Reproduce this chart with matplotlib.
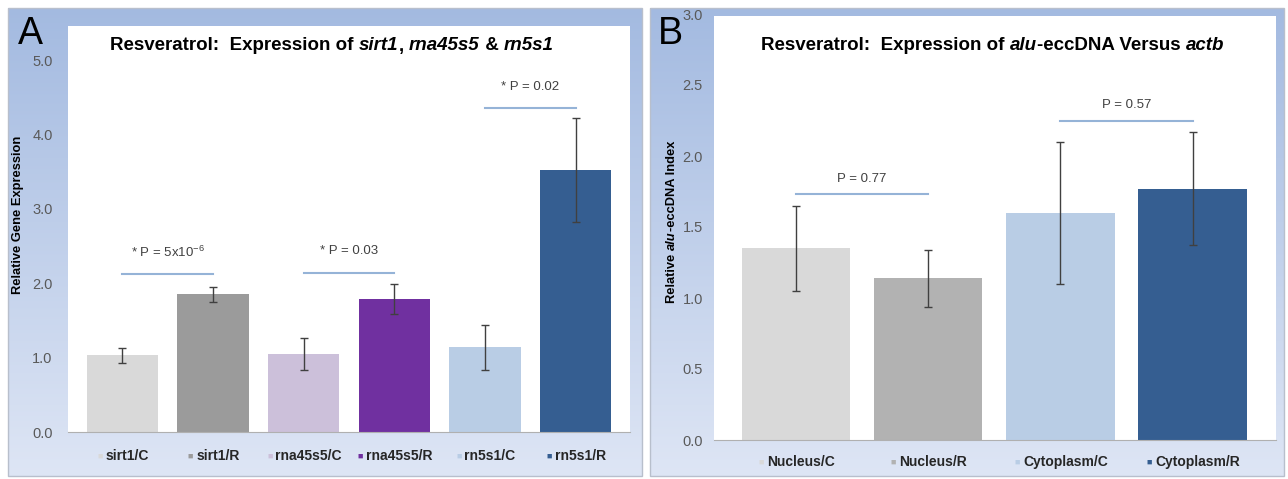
import matplotlib
matplotlib.use('Agg')
import matplotlib.pyplot as plt
import numpy as np
from matplotlib.transforms import IdentityTransform

plt.rcParams['font.family'] = ['Liberation Sans', 'DejaVu Sans']
plt.rcParams['mathtext.fontset'] = 'custom'
plt.rcParams['mathtext.rm'] = 'Liberation Sans'

W, H = 1288, 479

# panel A data
a_labels = ['sirt1/C', 'sirt1/R', 'rna45s5/C', 'rna45s5/R', 'rn5s1/C', 'rn5s1/R']
a_values = [1.03, 1.85, 1.05, 1.79, 1.14, 3.52]
a_errors = [0.10, 0.10, 0.21, 0.20, 0.30, 0.70]
a_colors = ['#d9d9d9', '#9b9b9b', '#ccc0da', '#7030a0', '#b9cde5', '#355e91']
a_pvals = ['* P = 5x10$^{-6}$', '* P = 0.03', '* P = 0.02']
a_pline = [2.12, 2.14, 4.35]

# panel B data
b_labels = ['Nucleus/C', 'Nucleus/R', 'Cytoplasm/C', 'Cytoplasm/R']
b_values = [1.35, 1.14, 1.60, 1.77]
b_errors = [0.30, 0.20, 0.50, 0.40]
b_colors = ['#d9d9d9', '#b2b2b2', '#b9cde5', '#355e91']
b_pvals = ['P = 0.77', 'P = 0.57']
b_pline = [1.73, 2.25]

fig = plt.figure(figsize=(W / 100, H / 100), dpi=100)
fig.patch.set_facecolor('white')
bg = fig.add_axes([0, 0, 1, 1])
bg.set_xlim(0, W)
bg.set_ylim(H, 0)
bg.axis('off')

grad = np.linspace(0, 1, 256)
top = np.array([0.64, 0.73, 0.88])
bot = np.array([0.87, 0.90, 0.96])
img = (top + (bot - top) * grad[:, None])[:, None, :]


def panel_bg(x0, y0, x1, y1, wx0, wy0, wx1, wy1):
    bg.imshow(img, extent=(x0, x1, y1, y0), aspect='auto', zorder=0)
    bg.add_patch(plt.Rectangle((x0, y0), x1 - x0, y1 - y0, fill=False,
                               ec='#b8bfcc', lw=1, zorder=1))
    bg.add_patch(plt.Rectangle((wx0, wy0), wx1 - wx0, wy1 - wy0, fc='white',
                               ec='none', zorder=1))


panel_bg(8, 8, 642, 476, 68, 26, 630, 432)
panel_bg(650, 8, 1284, 476, 714, 16, 1276, 440)
bg.set_xlim(0, W)
bg.set_ylim(H, 0)

renderer = fig.canvas.get_renderer()


def rich(x, y, pieces, size, rot=0, color='black'):
    # pieces: (text, style) drawn side by side, centred on (x, y) in pixels from top
    arts = []
    for s, st in pieces:
        t = fig.text(0, 0, s, fontsize=size, fontweight='bold', fontstyle=st,
                     color=color, transform=IdentityTransform(),
                     rotation=rot, rotation_mode='anchor', ha='left', va='center')
        arts.append(t)
    widths = []
    for t in arts:
        bb = t.get_window_extent(renderer)
        widths.append(bb.width if rot == 0 else bb.height)
    total = sum(widths)
    pos = -total / 2
    for t, w in zip(arts, widths):
        if rot == 0:
            t.set_position((x + pos, H - y))
        else:
            t.set_position((x, H - y + pos))
        pos += w


def make_axes(l, r, b, t, pad):
    ax = fig.add_axes([l / W, 1 - b / H, (r - l) / W, (b - t) / H])
    ax.patch.set_alpha(0)
    for s in ['top', 'right', 'left']:
        ax.spines[s].set_visible(False)
    ax.spines['bottom'].set_color('#b0b0b0')
    ax.tick_params(axis='y', length=0, labelsize=10.5, labelcolor='#595959', pad=pad)
    ax.set_xticks([])
    return ax


def bottom_labels(ax, labels, colors, ypix):
    for i, (lab, c) in enumerate(zip(labels, colors)):
        xd = ax.transData.transform((i, 0))[0]
        t = fig.text(xd + 5, H - ypix, lab, fontsize=10, fontweight='bold',
                     color='#262626', ha='center', va='center',
                     transform=IdentityTransform())
        w = t.get_window_extent(renderer).width
        fig.text(xd + 5 - w / 2 - 3, H - ypix, '\u25a0', fontsize=6.5, color=c,
                 ha='right', va='center', transform=IdentityTransform())


# ---- Panel A
axA = make_axes(68, 630, 432, 60, 11)
xa = np.arange(len(a_values))
axA.bar(xa, a_values, width=0.79, color=a_colors, zorder=2)
axA.errorbar(xa, a_values, yerr=a_errors, fmt='none', ecolor='#404040',
             elinewidth=1, capsize=3, capthick=1, zorder=3)
axA.set_xlim(-0.6, 5.6)
axA.set_ylim(0, 5)
axA.set_yticks(np.arange(0, 5.1, 1))
axA.set_yticklabels(['%.1f' % v for v in np.arange(0, 5.1, 1)])
for k in range(3):
    axA.plot([2 * k, 2 * k + 1], [a_pline[k]] * 2, color='#95b3d7', lw=1.5, zorder=2)
    axA.text(2 * k + 0.5, a_pline[k] + 0.29, a_pvals[k], fontsize=9.5,
             color='#404040', ha='center', va='center')
bottom_labels(axA, a_labels, a_colors, 456)

rich(332, 46, [('Resveratrol:  Expression of ', 'normal'), ('sirt1', 'italic'),
               (', ', 'normal'), ('rna45s5', 'italic'), (' & ', 'normal'),
               ('rn5s1', 'italic')], 13.5)
rich(18, 215, [('Relative Gene Expression', 'normal')], 9.3, rot=90)
fig.text(30, H - 34, 'A', fontsize=27, ha='center', va='center',
         transform=IdentityTransform())

# ---- Panel B
axB = make_axes(714, 1276, 440, 14, 8)
xb = np.arange(len(b_values))
axB.bar(xb, b_values, width=0.82, color=b_colors, zorder=2)
axB.errorbar(xb, b_values, yerr=b_errors, fmt='none', ecolor='#404040',
             elinewidth=1, capsize=3, capthick=1, zorder=3)
axB.set_xlim(-0.62, 3.63)
axB.set_ylim(0, 3)
axB.set_yticks(np.arange(0, 3.01, 0.5))
axB.set_yticklabels(['%.1f' % v for v in np.arange(0, 3.01, 0.5)])
for k in range(2):
    axB.plot([2 * k, 2 * k + 1], [b_pline[k]] * 2, color='#95b3d7', lw=1.5, zorder=2)
    axB.text(2 * k + 0.5, b_pline[k] + 0.11, b_pvals[k], fontsize=9.5,
             color='#404040', ha='center', va='center')
bottom_labels(axB, b_labels, b_colors, 462)

rich(993, 46, [('Resveratrol:  Expression of ', 'normal'), ('alu', 'italic'),
               ('-eccDNA Versus ', 'normal'), ('actb', 'italic')], 13.5)
rich(672, 222, [('Relative ', 'normal'), ('alu', 'italic'),
                ('-eccDNA Index', 'normal')], 9.3, rot=90)
fig.text(670, H - 34, 'B', fontsize=27, ha='center', va='center',
         transform=IdentityTransform())

fig.savefig('out.png', dpi=100)
